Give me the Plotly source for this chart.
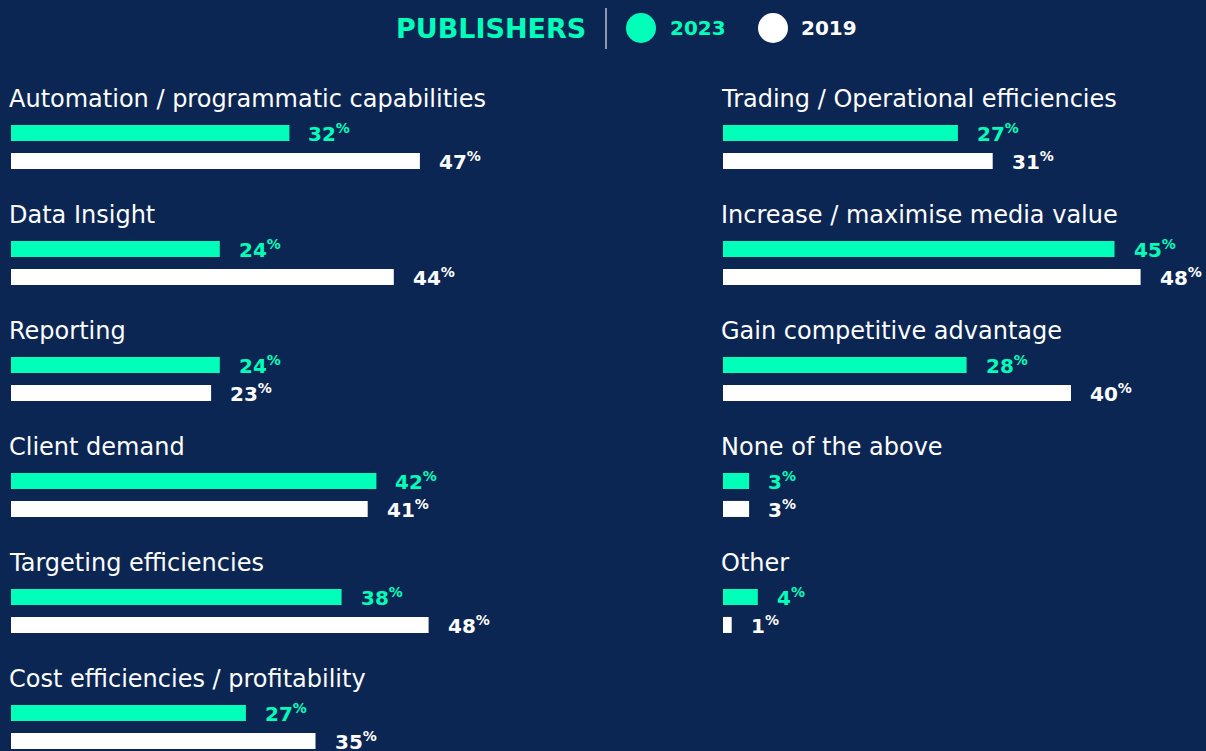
import plotly.graph_objects as go

BG_COLOR = "#0c2654"
GREEN = "#00ffb9"
WHITE = "#ffffff"
FONT = "DejaVu Sans, Verdana, sans-serif"

left_categories = [
    "Automation / programmatic capabilities",
    "Data Insight",
    "Reporting",
    "Client demand",
    "Targeting efficiencies",
    "Cost efficiencies / profitability",
]
left_2023 = [32, 24, 24, 42, 38, 27]
left_2019 = [47, 44, 23, 41, 48, 35]

right_categories = [
    "Trading / Operational efficiencies",
    "Increase / maximise media value",
    "Gain competitive advantage",
    "None of the above",
    "Other",
]
right_2023 = [27, 45, 28, 3, 4]
right_2019 = [31, 48, 40, 3, 1]

# vertical layout in "group" units: one group = 116px
GREEN_OFFSET = 0.293
WHITE_OFFSET = 0.534
BAR_WIDTH = 0.138
PX_PER_UNIT = 116
W, H = 1206, 751
PX_PER_PCT = 8.7


def add_column(fig, categories, v2023, v2019, xaxis, yaxis):
    idx = list(range(len(categories)))
    fig.add_trace(go.Bar(
        x=v2023, y=[i + GREEN_OFFSET for i in idx], orientation="h", width=BAR_WIDTH,
        marker=dict(color=GREEN, line=dict(width=0)), name="2023",
        xaxis=xaxis, yaxis=yaxis, showlegend=False, hoverinfo="skip",
    ))
    fig.add_trace(go.Bar(
        x=v2019, y=[i + WHITE_OFFSET for i in idx], orientation="h", width=BAR_WIDTH,
        marker=dict(color=WHITE, line=dict(width=0)), name="2019",
        xaxis=xaxis, yaxis=yaxis, showlegend=False, hoverinfo="skip",
    ))
    for i, label in enumerate(categories):
        fig.add_annotation(
            x=0, y=i, xref=xaxis, yref=yaxis, text=label, showarrow=False,
            xanchor="left", yanchor="middle", xshift=-4,
            font=dict(family=FONT, size=24, color=WHITE),
        )
    for vals, off, color in ((v2023, GREEN_OFFSET, GREEN), (v2019, WHITE_OFFSET, WHITE)):
        for i, v in enumerate(vals):
            fig.add_annotation(
                x=v, y=i + off, xref=xaxis, yref=yaxis,
                text=f"<b>{v}<sup>%</sup></b>", showarrow=False,
                xanchor="left", yanchor="middle", xshift=17,
                font=dict(family=FONT, size=20, color=color),
            )


fig = go.Figure()
add_column(fig, left_categories, left_2023, left_2019, "x", "y")
add_column(fig, right_categories, right_2023, right_2019, "x2", "y2")

y_top = -99 / PX_PER_UNIT
y_bottom = (H - 99) / PX_PER_UNIT
left_x0, left_x1 = 11, 700
right_x0, right_x1 = 723, W

axis_off = dict(visible=False, showgrid=False, zeroline=False, fixedrange=True)
fig.update_layout(
    width=W,
    height=H,
    margin=dict(l=0, r=0, t=0, b=0),
    paper_bgcolor=BG_COLOR,
    plot_bgcolor=BG_COLOR,
    barmode="overlay",
    xaxis=dict(domain=[left_x0 / W, left_x1 / W], range=[0, (left_x1 - left_x0) / PX_PER_PCT], **axis_off),
    xaxis2=dict(domain=[right_x0 / W, 1], range=[0, (right_x1 - right_x0) / PX_PER_PCT], anchor="y2", **axis_off),
    yaxis=dict(domain=[0, 1], range=[y_bottom, y_top], **axis_off),
    yaxis2=dict(domain=[0, 1], range=[y_bottom, y_top], anchor="x2", **axis_off),
)

# header: title, divider and legend
title_y = 1 - 28 / H
fig.add_annotation(
    x=588 / W, y=title_y, xref="paper", yref="paper", text="<b>PUBLISHERS</b>",
    showarrow=False, xanchor="right", yanchor="middle",
    font=dict(family=FONT, size=27, color=GREEN),
)
fig.add_shape(type="line", xref="paper", yref="paper",
              x0=606 / W, x1=606 / W, y0=1 - 8 / H, y1=1 - 49 / H,
              line=dict(color="rgba(255,255,255,0.7)", width=1.5))
for cx, color, label, tx in ((641, GREEN, "2023", 668), (773, WHITE, "2019", 799)):
    fig.add_shape(type="circle", xref="paper", yref="paper",
                  x0=(cx - 15) / W, x1=(cx + 15) / W, y0=1 - 13 / H, y1=1 - 43 / H,
                  fillcolor=color, line=dict(width=0))
    fig.add_annotation(
        x=tx / W, y=title_y, xref="paper", yref="paper", text=f"<b>{label}</b>",
        showarrow=False, xanchor="left", yanchor="middle",
        font=dict(family=FONT, size=20, color=color),
    )

fig.write_html(
    "out.html",
    config=dict(displayModeBar=False),
    post_script="document.body.style.margin='0';document.body.style.overflow='hidden';",
)
